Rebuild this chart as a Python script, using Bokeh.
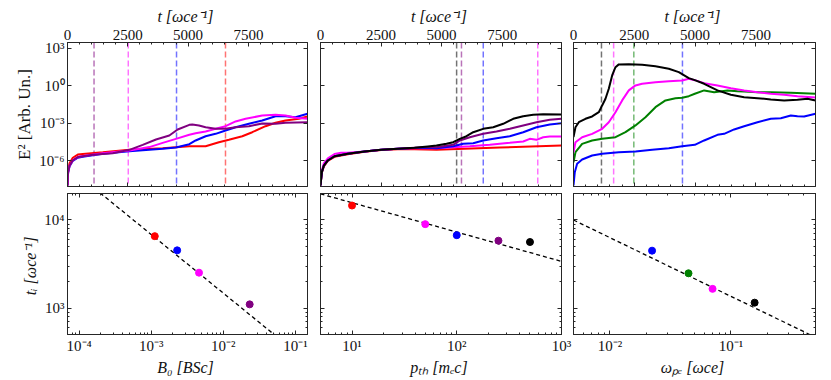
import numpy as np
from bokeh.plotting import figure
from bokeh.layouts import row, column
from bokeh.models import (LinearAxis, LogAxis, FixedTicker, CustomJSTickFormatter,
                          Span, Range1d)
from bokeh.embed import file_html
from bokeh.resources import INLINE

# ---------------- data ----------------
T_MAX = 9950
E_LOG_RANGE = (-8.05, 3.46)
TI_RANGE = (500, 20000)

# Panel 1: B0 scan  (t, log10 E^2)
b_red_t   = [0, 25, 83, 220, 427, 633, 1462, 2567, 3946, 5051, 5726, 6277, 6691, 7246, 7660, 8211, 8625, 9039, 9590, 9950]
b_red_e   = [-7.97, -6.8, -6.2, -5.75, -5.5, -5.45, -5.31, -5.12, -4.99, -4.83, -4.83, -4.51, -4.32, -4.03, -3.71, -3.23, -2.96, -2.77, -2.64, -2.45]
b_blue_t  = [0, 25, 83, 220, 427, 633, 1462, 2567, 3946, 4497, 5051, 5312, 5726, 6140, 6554, 6968, 7521, 8073, 8625, 9039, 9453, 9950]
b_blue_e  = [-7.97, -6.95, -6.45, -6.0, -5.75, -5.68, -5.44, -5.23, -5.04, -4.93, -4.67, -4.37, -4.03, -3.84, -3.57, -3.31, -3.04, -2.77, -2.43, -2.43, -2.51, -2.24]
b_mag_t   = [0, 25, 83, 220, 427, 633, 1462, 2567, 3395, 3946, 4497, 5051, 5312, 5726, 6140, 6554, 6968, 7384, 8073, 8625, 9039, 9453, 9950]
b_mag_e   = [-7.97, -6.9, -6.4, -5.95, -5.7, -5.62, -5.39, -5.17, -4.9, -4.56, -4.24, -3.92, -3.79, -3.65, -3.44, -3.23, -2.85, -2.64, -2.37, -2.32, -2.37, -2.56, -2.64]
b_pur_t   = [0, 25, 83, 220, 427, 1048, 1876, 2567, 3118, 3669, 4222, 4567, 5051, 5176, 5450, 5726, 6140, 6554, 6968, 7521, 8073, 8625, 9039, 9950]
b_pur_e   = [-7.97, -6.9, -6.4, -5.95, -5.7, -5.52, -5.4, -5.12, -4.72, -4.29, -3.97, -3.49, -3.12, -3.1, -3.17, -3.31, -3.44, -3.44, -3.31, -3.23, -3.01, -3.04, -2.96, -2.91]

# Panel 2: p_th scan
p_blk_t = [0, 55, 138, 303, 578, 1128, 1817, 2505, 3193, 3881, 4430, 4789, 5202, 5478, 5753, 6028, 6305, 6717, 7130, 7543, 7956, 8369, 8781, 9195, 9950]
p_blk_e = [-7.97, -6.9, -6.38, -5.97, -5.63, -5.44, -5.25, -5.12, -5.04, -4.96, -4.85, -4.78, -4.64, -4.51, -4.24, -4.03, -3.71, -3.44, -3.31, -3.04, -2.64, -2.43, -2.32, -2.27, -2.29]
p_pur_t = [0, 55, 138, 303, 578, 1128, 1817, 2505, 3193, 3881, 4430, 4789, 5478, 5753, 6165, 6717, 7266, 7815, 8369, 8918, 9467, 9950]
p_pur_e = [-7.97, -6.9, -6.38, -5.97, -5.63, -5.44, -5.25, -5.12, -5.04, -4.96, -4.9, -4.91, -4.72, -4.37, -4.11, -3.84, -3.65, -3.44, -3.17, -2.91, -2.72, -2.64]
p_blu_t = [0, 55, 138, 303, 578, 1128, 1817, 2505, 3193, 3881, 4430, 4789, 5478, 5891, 6305, 6717, 7266, 7815, 8369, 8918, 9467, 9950]
p_blu_e = [-7.97, -6.9, -6.38, -5.97, -5.63, -5.44, -5.25, -5.12, -5.04, -4.98, -4.95, -4.99, -4.83, -4.64, -4.59, -4.37, -4.19, -4.03, -3.71, -3.31, -3.09, -2.99]
p_mag_t = [0, 55, 138, 303, 578, 853, 1128, 1817, 2505, 3193, 3881, 4789, 6165, 6990, 7815, 8369, 8641, 8918, 9195, 9467, 9950]
p_mag_e = [-7.97, -6.8, -6.2, -5.8, -5.45, -5.36, -5.35, -5.25, -5.12, -5.04, -4.98, -4.99, -4.83, -4.72, -4.56, -4.45, -4.24, -4.32, -4.11, -4.05, -4.05]
p_red_t = [0, 55, 138, 303, 578, 1128, 1817, 2505, 3193, 3881, 4789, 7400, 9950]
p_red_e = [-7.97, -6.95, -6.45, -6.0, -5.68, -5.47, -5.28, -5.14, -5.08, -5.08, -5.12, -4.93, -4.77]

# Panel 3: omega_pe scan
w_blk_t = [0, 81, 218, 492, 766, 1040, 1178, 1315, 1451, 1589, 1726, 1863, 2274, 2822, 3370, 3919, 4330, 4741, 4988, 5372, 5920, 6468, 7016, 7564, 8113, 8661, 9209, 9620, 9950]
w_blk_e = [-4.1, -3.31, -2.91, -2.64, -2.45, -2.11, -1.57, -1.04, -0.24, 0.83, 1.49, 1.71, 1.73, 1.68, 1.57, 1.36, 1.09, 0.61, 0.45, 0.16, -0.37, -0.72, -0.91, -0.99, -1.09, -1.17, -1.12, -1.04, -1.17]
w_mag_t = [0, 81, 355, 766, 1178, 1451, 1726, 2000, 2274, 2548, 2822, 3370, 3919, 4467, 4741, 4988, 5372, 5920, 6468, 7016, 7564, 8113, 8661, 9209, 9950]
w_mag_e = [-5.31, -4.51, -4.11, -3.84, -3.44, -2.91, -2.11, -1.17, -0.37, 0.03, 0.16, 0.29, 0.37, 0.43, 0.56, 0.45, 0.21, 0.03, -0.19, -0.37, -0.51, -0.64, -0.72, -0.83, -0.93]
w_grn_t = [0, 81, 355, 766, 1178, 1726, 2137, 2548, 2959, 3370, 3782, 4193, 4467, 4741, 4988, 5372, 5783, 6331, 6742, 7016, 7564, 8113, 8935, 9950]
w_grn_e = [-6.11, -5.31, -4.64, -4.37, -4.24, -4.11, -3.71, -3.17, -2.51, -1.71, -1.17, -0.99, -0.96, -0.83, -0.64, -0.37, -0.51, -0.37, -0.43, -0.45, -0.51, -0.51, -0.56, -0.64]
w_blu_t = [0, 53, 149, 355, 766, 1178, 1863, 2548, 3234, 3919, 4467, 4988, 5372, 5920, 6194, 6605, 7016, 7564, 8113, 8524, 8935, 9209, 9483, 9950]
w_blu_e = [-7.97, -6.91, -6.24, -5.89, -5.57, -5.44, -5.31, -5.25, -5.12, -4.99, -4.83, -4.72, -4.37, -3.92, -3.84, -3.49, -3.23, -2.91, -2.64, -2.59, -2.37, -2.43, -2.45, -2.24]

# Bottom row: growth times
b0_vals   = [1.12e-3, 2.29e-3, 4.6e-3, 2.32e-2]
b0_ti     = [6550, 4520, 2520, 1100]
b0_colors = ["red", "blue", "magenta", "purple"]
b0_fit    = (68.4, -2.0 / 3.0)          # t_i = A * B0**k
b0_xrange = (6.9e-5, 0.147)

pth_vals   = [10, 50, 100, 250, 500]
pth_ti     = [14600, 8970, 6720, 5820, 5620]
pth_colors = ["red", "magenta", "blue", "purple", "black"]
pth_fit    = (19800 * 5 ** (1.0 / 3.0), -1.0 / 3.0)
pth_xrange = (5, 1000)

wpe_vals   = [0.0223, 0.0446, 0.0705, 0.157]
wpe_ti     = [4480, 2480, 1650, 1150]
wpe_colors = ["blue", "green", "magenta", "black"]
wpe_fit    = (1e4 * 0.005 ** (2.0 / 3.0), -2.0 / 3.0)
wpe_xrange = (0.005, 0.5)

# ---------------- styling helpers ----------------
FONT = "Liberation Serif"
AX = "#262626"

SUP_CODE = """
const e = Math.round(Math.log10(tick));
const sup = {'-':'\u207b','0':'\u2070','1':'\u00b9','2':'\u00b2','3':'\u00b3','4':'\u2074',
             '5':'\u2075','6':'\u2076','7':'\u2077','8':'\u2078','9':'\u2079'};
return '10' + String(e).split('').map(c => sup[c]).join('');
"""


def sup_fmt():
    return CustomJSTickFormatter(code=SUP_CODE)


def blank_fmt():
    return CustomJSTickFormatter(code="return '';")


def style_axis(ax, labels=True):
    ax.major_tick_in = 4
    ax.major_tick_out = 0
    ax.minor_tick_in = 2
    ax.minor_tick_out = 0
    ax.axis_line_color = AX
    ax.major_tick_line_color = AX
    ax.minor_tick_line_color = AX
    ax.major_label_text_font = FONT
    ax.major_label_text_color = "#111111"
    ax.axis_label_text_font = FONT
    ax.axis_label_text_font_size = "16px"
    ax.axis_label_text_font_style = "italic"
    ax.axis_label_text_color = "#111111"
    ax.axis_label_standoff = 2
    if labels:
        ax.major_label_text_font_size = "15px"
        ax.major_label_standoff = 3
    else:
        ax.formatter = blank_fmt()
        ax.major_label_text_font_size = "0px"
        ax.major_label_standoff = 0


def log_minor(lo_exp, hi_exp):
    return [m * 10.0 ** e for e in range(lo_exp, hi_exp + 1) for m in range(1, 10)]


COLS = [dict(width=327, bl=67, br=20, margin=None),
        dict(width=281, bl=20, br=20, margin=(0, 0, 0, -27)),
        dict(width=270, bl=20, br=8, margin=(0, 0, 0, -28))]


def base_fig(col, height, bt, bb, **kw):
    c = COLS[col]
    p = figure(width=c["width"], height=height, output_backend="svg", toolbar_location=None,
               min_border_left=c["bl"], min_border_right=c["br"],
               min_border_top=bt, min_border_bottom=bb, **kw)
    if c["margin"] is not None:
        p.margin = c["margin"]
    p.xgrid.visible = False
    p.ygrid.visible = False
    p.outline_line_color = AX
    p.outline_line_width = 1
    p.border_fill_color = None
    p.background_fill_color = None
    return p


def top_panel(col, curves, ti, ti_colors):
    p = base_fig(col, 190, 42, 4, x_range=Range1d(0, T_MAX),
                 y_range=Range1d(10 ** E_LOG_RANGE[0], 10 ** E_LOG_RANGE[1]),
                 y_axis_type="log", x_axis_location="above")
    xt = dict(ticks=[0, 2500, 5000, 7500], minor_ticks=list(range(0, 10001, 500)))
    yt = dict(ticks=[1e-6, 1e-3, 1.0, 1e3], minor_ticks=[])
    ax_top = p.xaxis[0]
    ax_top.ticker = FixedTicker(**xt)
    style_axis(ax_top)
    ax_top.axis_label = "t  [\u03c9ce\u207b\u00b9]"
    ax_bot = LinearAxis(ticker=FixedTicker(**xt))
    style_axis(ax_bot, labels=False)
    p.add_layout(ax_bot, "below")
    ax_l = p.yaxis[0]
    ax_l.ticker = FixedTicker(**yt)
    if col == 0:
        ax_l.formatter = sup_fmt()
        style_axis(ax_l)
        ax_l.axis_label = "E\u00b2 [Arb. Un.]"
        ax_l.axis_label_text_font_style = "normal"
        ax_l.axis_label_text_font_size = "17px"
    else:
        style_axis(ax_l, labels=False)
    ax_r = LogAxis(ticker=FixedTicker(**yt))
    style_axis(ax_r, labels=False)
    p.add_layout(ax_r, "right")
    for t_loc, c in zip(ti, ti_colors):
        p.add_layout(Span(location=t_loc, dimension="height", line_color=c,
                          line_dash="6 3", line_width=1.5, line_alpha=0.55, level="underlay"))
    for t, e, c in curves:
        p.line(t, 10 ** np.array(e), line_color=c, line_width=2)
    return p


def bottom_panel(col, xvals, ti, colors, fit, xr, xmaj, xminexp, xlabel):
    p = base_fig(col, 188, 3, 41, x_axis_type="log", y_axis_type="log",
                 x_range=Range1d(*xr), y_range=Range1d(*TI_RANGE))
    xt = dict(ticks=xmaj, minor_ticks=log_minor(*xminexp))
    yt = dict(ticks=[1e3, 1e4], minor_ticks=log_minor(2, 4))
    ax_b = p.xaxis[0]
    ax_b.ticker = FixedTicker(**xt)
    ax_b.formatter = sup_fmt()
    style_axis(ax_b)
    ax_b.axis_label = xlabel
    ax_t = LogAxis(ticker=FixedTicker(**xt))
    style_axis(ax_t, labels=False)
    p.add_layout(ax_t, "above")
    ax_l = p.yaxis[0]
    ax_l.ticker = FixedTicker(**yt)
    if col == 0:
        ax_l.formatter = sup_fmt()
        style_axis(ax_l)
        ax_l.axis_label = "t\u1d62  [\u03c9ce\u207b\u00b9]"
    else:
        style_axis(ax_l, labels=False)
    ax_r = LogAxis(ticker=FixedTicker(**yt))
    style_axis(ax_r, labels=False)
    p.add_layout(ax_r, "right")
    fx = np.array(xr, dtype=float)
    p.line(fx, fit[0] * fx ** fit[1], line_color="black", line_dash="4 3", line_width=1.3)
    p.scatter(xvals, ti, size=7, fill_color=colors, line_color=colors)
    return p


t1 = top_panel(0, [(b_red_t, b_red_e, "red"), (b_blue_t, b_blue_e, "blue"),
                   (b_mag_t, b_mag_e, "magenta"), (b_pur_t, b_pur_e, "purple")],
               b0_ti, b0_colors)
t2 = top_panel(1, [(p_red_t, p_red_e, "red"), (p_mag_t, p_mag_e, "magenta"),
                   (p_blu_t, p_blu_e, "blue"), (p_pur_t, p_pur_e, "purple"),
                   (p_blk_t, p_blk_e, "black")],
               pth_ti, pth_colors)
t3 = top_panel(2, [(w_blu_t, w_blu_e, "blue"), (w_grn_t, w_grn_e, "green"),
                   (w_mag_t, w_mag_e, "magenta"), (w_blk_t, w_blk_e, "black")],
               wpe_ti, wpe_colors)

b1 = bottom_panel(0, b0_vals, b0_ti, b0_colors, b0_fit, b0_xrange,
                  [1e-4, 1e-3, 1e-2, 1e-1], (-5, -1), "B\u2080  [BSc]")
b2 = bottom_panel(1, pth_vals, pth_ti, pth_colors, pth_fit, pth_xrange,
                  [1e1, 1e2, 1e3], (0, 3), "p\u209c\u2095  [m\u2091c]")
b3 = bottom_panel(2, wpe_vals, wpe_ti, wpe_colors, wpe_fit, wpe_xrange,
                  [1e-2, 1e-1], (-3, -1), "\u03c9\u209a\u2091  [\u03c9ce]")

layout = column(row(t1, t2, t3), row(b1, b2, b3))

open("out.html", "w").write(file_html(layout, INLINE))
